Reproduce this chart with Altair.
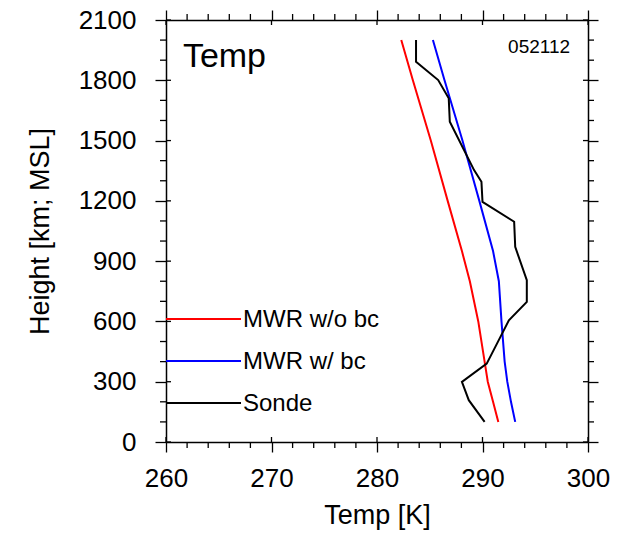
import altair as alt
import pandas as pd

FONT = "Liberation Sans"

series_names = ["MWR w/o bc", "MWR w/ bc", "Sonde"]
series_colors = ["#ff0000", "#0000ff", "#000000"]

# MWR profiles (height in m, temperature in K)
mwr_height = [2000, 1800, 1500, 1200, 950, 800, 600, 400, 300, 200, 100]
mwr_nobc_temp = [282.3, 283.4, 285.1, 286.7, 288.05, 288.8, 289.6, 290.2, 290.5, 291.0, 291.5]
mwr_bc_temp = [285.3, 286.4, 288.1, 289.7, 291.0, 291.55, 291.8, 292.1, 292.35, 292.7, 293.1]

# Radiosonde profile
sonde_height = [2000, 1892, 1801, 1710, 1594, 1353, 1295, 1195, 1096, 971, 805, 697, 606, 523, 390, 299, 208, 100]
sonde_temp = [283.7, 283.7, 285.8, 286.8, 286.9, 289.2, 289.9, 290.0, 293.0, 293.1, 294.2, 294.2, 292.5, 291.7, 290.4, 288.05, 288.7, 290.2]

x_major = [260, 270, 280, 290, 300]
x_minor = [262, 264, 266, 268, 272, 274, 276, 278, 282, 284, 286, 288, 292, 294, 296, 298]
y_major = [0, 300, 600, 900, 1200, 1500, 1800, 2100]
y_minor = [100, 200, 400, 500, 700, 800, 1000, 1100, 1300, 1400, 1600, 1700, 1900, 2000]

W = 422
H = 422

rows = []
for h, t in zip(mwr_height, mwr_nobc_temp):
    rows.append({"T": t, "H": h, "series": series_names[0]})
for h, t in zip(mwr_height, mwr_bc_temp):
    rows.append({"T": t, "H": h, "series": series_names[1]})
for h, t in zip(sonde_height, sonde_temp):
    rows.append({"T": t, "H": h, "series": series_names[2]})
df = pd.DataFrame(rows)

dummy = pd.DataFrame({"T": [260, 300], "H": [0, 2100]})
legend_df = pd.DataFrame({"series": series_names})

xs = alt.Scale(domain=[260, 300], nice=False, zero=False)
ys = alt.Scale(domain=[0, 2100], nice=False, zero=False)
cs = alt.Scale(domain=series_names, range=series_colors)

common = dict(grid=False, tickColor="black", tickWidth=1.3, domainColor="black",
              domainWidth=1.5, labelFlush=False)

lines = alt.Chart(df).mark_line(strokeWidth=2).encode(
    x=alt.X("T:Q", scale=xs,
            axis=alt.Axis(orient="bottom", values=x_major, tickSize=10, title="Temp [K]",
                          format="d", labelFont=FONT, labelFontSize=26, labelColor="black",
                          labelPadding=13, titleFont=FONT, titleFontSize=27,
                          titleFontWeight="normal", titleColor="black", titlePadding=11,
                          **common)),
    y=alt.Y("H:Q", scale=ys,
            axis=alt.Axis(orient="left", values=y_major, tickSize=11, title="Height [km; MSL]",
                          format="d", labelFont=FONT, labelFontSize=26, labelColor="black",
                          labelPadding=19, titleFont=FONT, titleFontSize=27,
                          titleFontWeight="normal", titleColor="black", titlePadding=24,
                          **common)),
    color=alt.Color("series:N", scale=cs, legend=None),
    order=alt.Order("H:Q", sort="descending"),
)

mirror = alt.Chart(dummy).mark_point(opacity=0).encode(
    x=alt.X("T:Q", scale=xs,
            axis=alt.Axis(orient="top", values=x_major, tickSize=10, labels=False, title=None,
                          **common)),
    y=alt.Y("H:Q", scale=ys,
            axis=alt.Axis(orient="right", values=y_major, tickSize=10, labels=False, title=None,
                          **common)),
)


def xticks(values, y1, y2):
    return alt.Chart(pd.DataFrame({"v": values})).mark_rule(color="black", strokeWidth=1.3).encode(
        x=alt.X("v:Q", scale=xs, axis=None), y=alt.value(y1), y2=alt.value(y2))


def yticks(values, x1, x2):
    return alt.Chart(pd.DataFrame({"v": values})).mark_rule(color="black", strokeWidth=1.3).encode(
        y=alt.Y("v:Q", scale=ys, axis=None), x=alt.value(x1), x2=alt.value(x2))


tick_layers = [
    xticks(x_major, H - 5, H),
    xticks(x_minor, H, H + 6),
    xticks(x_major, 0, 5),
    xticks(x_minor, -6, 0),
    yticks(y_major, 0, 5),
    yticks(y_minor, -6, 0),
    yticks(y_major, W - 5, W),
    yticks(y_minor, W, W + 6),
]

# in-plot legend (rows placed by a point scale)
legend_y = alt.Y("series:N", axis=None,
                 scale=alt.Scale(type="point", domain=series_names, range=[299, 383], padding=0))
legend_lines = alt.Chart(legend_df).mark_rule(strokeWidth=2).encode(
    y=legend_y, x=alt.value(0), x2=alt.value(75),
    color=alt.Color("series:N", scale=cs, legend=None),
)
legend_labels = alt.Chart(legend_df).mark_text(
    font=FONT, fontSize=24, align="left", baseline="middle", color="black", dy=1
).encode(y=legend_y, x=alt.value(77), text="series:N")

texts = pd.DataFrame({"T": [261.6], "H": [1868], "label": ["Temp"]})
date = pd.DataFrame({"T": [298.3], "H": [1937], "label": ["052112"]})

title_text = alt.Chart(texts).mark_text(font=FONT, fontSize=34, align="left",
                                        baseline="alphabetic", color="black").encode(
    x=alt.X("T:Q", scale=xs, axis=None), y=alt.Y("H:Q", scale=ys, axis=None), text="label:N")
date_text = alt.Chart(date).mark_text(font=FONT, fontSize=19, align="right",
                                      baseline="alphabetic", color="black").encode(
    x=alt.X("T:Q", scale=xs, axis=None), y=alt.Y("H:Q", scale=ys, axis=None), text="label:N")

chart = alt.layer(
    lines, mirror, *tick_layers, legend_lines, legend_labels, title_text, date_text
).resolve_axis(
    x="independent", y="independent"
).resolve_scale(
    y="independent"
).properties(
    width=W, height=H,
    autosize=alt.AutoSizeParams(type="none"),
    padding={"left": 158, "top": 12, "right": 40, "bottom": 92},
    background="white",
).configure_view(stroke=None)

chart.save("out.html", embed_options={"renderer": "svg", "actions": False})
